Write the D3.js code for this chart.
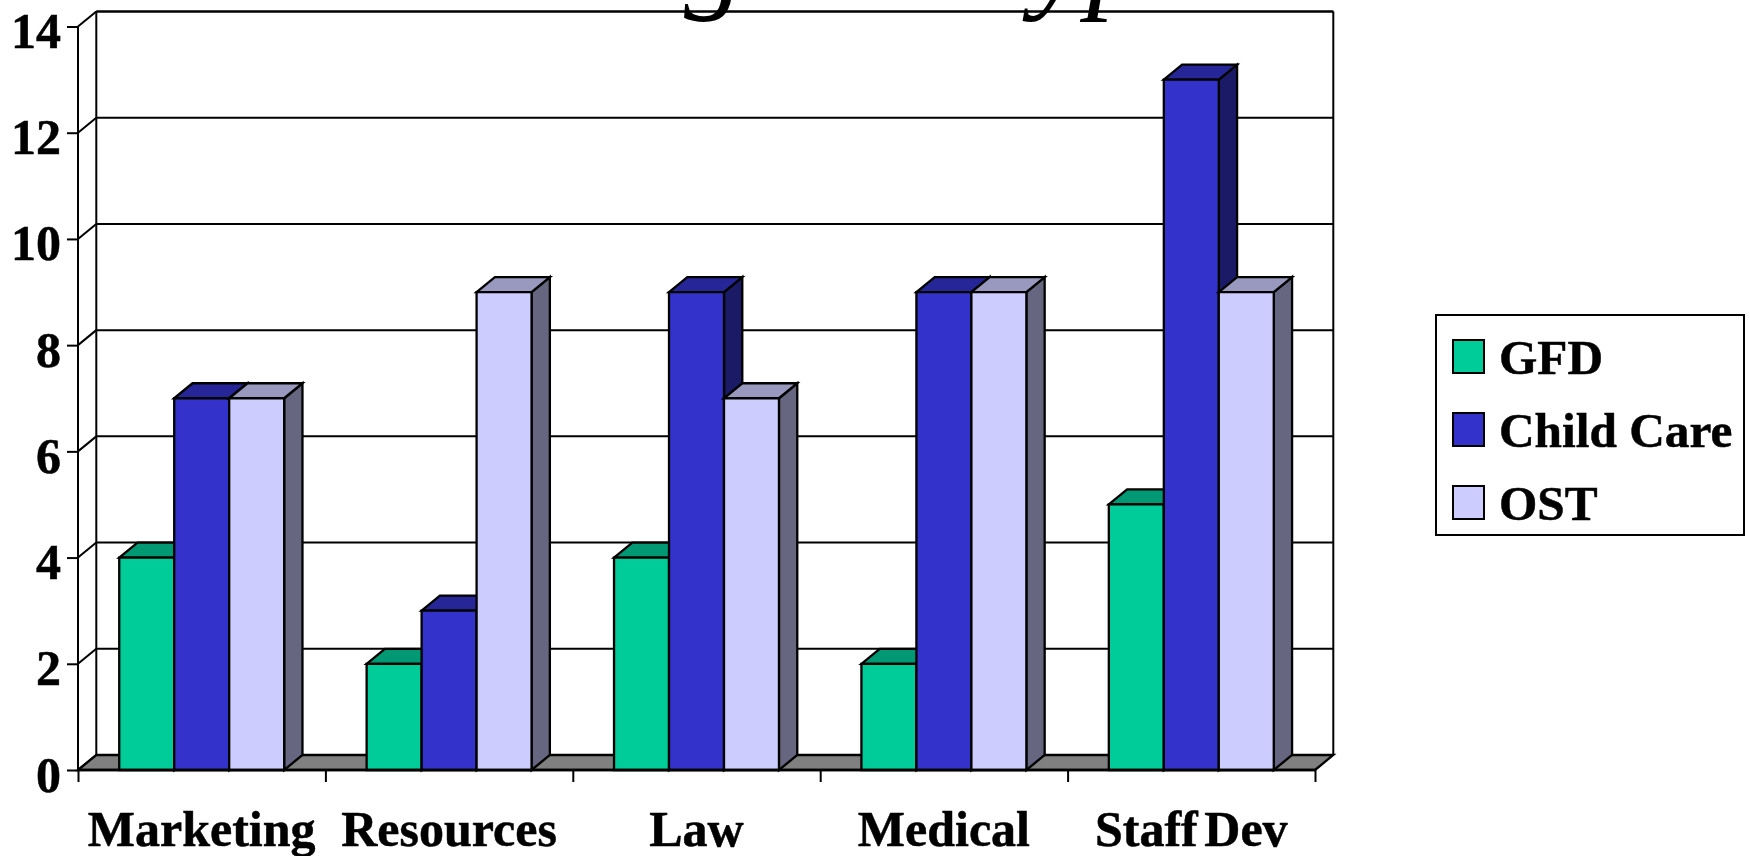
<!DOCTYPE html>
<html><head><meta charset="utf-8">
<script src="https://cdn.jsdelivr.net/npm/d3@7"></script>
<style>
html,body{margin:0;padding:0;background:#fff;overflow:hidden}
text{font-family:"Liberation Serif","Times New Roman",serif;fill:#000}
.b{font-weight:bold;font-size:50px;stroke:#000;stroke-width:0.5px}
</style></head><body>
<svg id="c" width="1750" height="856"></svg>
<script>
const categories = ["Marketing","Resources","Law","Medical","Staff Dev"];
const seriesNames = ["GFD","Child Care","OST"];
const gfd = [4,2,4,2,5];
const childCare = [7,3,9,9,13];
const ost = [7,9,7,9,9];
const yTicks = [0,2,4,6,8,10,12,14];
const frontColors = ["#00CC99","#3333CC","#CCCCFF"];
const topColors = ["#009973","#262699","#9999BF"];
const sideColors = ["#006650","#1A1A66","#666680"];
const seriesValues = [gfd,childCare,ost];

const svg = d3.select("#c");
const L=78,R=1315,T=26.5,B=770,DX=18.3,DY=15;
const x0=d3.scaleBand().domain(categories).range([L,R]).paddingInner(1/3).paddingOuter(1/6);
const x1=d3.scaleBand().domain(seriesNames).range([0,x0.bandwidth()]);
const y=d3.scaleLinear().domain([0,14]).range([B,T]);
const line=(g,a,b,c,d,w=2)=>g.append("line").attr("x1",a).attr("y1",b).attr("x2",c).attr("y2",d).attr("stroke","#000").attr("stroke-width",w);
const poly=(g,pts,fill)=>g.append("polygon").attr("points",pts.map(p=>p.join(",")).join(" ")).attr("fill",fill).attr("stroke","#000").attr("stroke-width",2.3).attr("stroke-linejoin","miter");

// walls
const wall=svg.append("g");
yTicks.forEach(v=>{
  if(v>0) line(wall,L+DX,y(v)-DY,R+DX,y(v)-DY);
  line(wall,L,y(v),L+DX,y(v)-DY);
});
line(wall,L,T,L,B);
line(wall,L+DX,T-DY,L+DX,B-DY);
line(wall,R+DX,T-DY,R+DX,B-DY);
poly(wall,[[L,B],[L+DX,B-DY],[R+DX,B-DY],[R,B]],"#808080");

// bars
categories.forEach((c,i)=>{
  const g=svg.append("g");
  seriesNames.forEach((s,j)=>{
    const a=x0(c)+x1(s),b=a+x1.bandwidth(),t=y(seriesValues[j][i]);
    poly(g,[[b,t],[b+DX,t-DY],[b+DX,B-DY],[b,B]],sideColors[j]);
    poly(g,[[a,t],[a+DX,t-DY],[b+DX,t-DY],[b,t]],topColors[j]);
    poly(g,[[a,t],[b,t],[b,B],[a,B]],frontColors[j]);
  });
});

// y axis
const ya=svg.append("g").attr("transform",`translate(${L},0)`)
  .call(d3.axisLeft(y).tickValues(yTicks).tickSize(11).tickPadding(6).tickFormat(d3.format("d")));
ya.select(".domain").remove();
ya.selectAll("line").attr("stroke","#000").attr("stroke-width",2);
ya.selectAll("text").attr("class","b").attr("dy","0.42em").attr("fill","#000");
ya.attr("font-family",null).attr("font-size",null);

// x axis: ticks on category boundaries, labels centred in bands
const boundaries=d3.range(categories.length+1);
const xb=d3.scaleLinear().domain([0,categories.length]).range([L,R]);
const xa=svg.append("g").attr("transform",`translate(0,${B})`)
  .call(d3.axisBottom(xb).tickValues(boundaries).tickSize(12).tickFormat(""));
xa.select(".domain").remove();
xa.selectAll("line").attr("stroke","#000").attr("stroke-width",2);
line(svg,L,B,R,B,2.3);
svg.append("g").selectAll("text").data(categories).join("text").attr("class","b")
  .attr("x",d=>x0(d)+x0.bandwidth()/2).attr("y",846).attr("text-anchor","middle").style("word-spacing","-6px").text(d=>d);

// top border of back wall
line(svg,L+DX,T-DY,R+DX,T-DY);

// title, almost entirely above the top edge: only descenders show
const titleStyle=s=>s.style("font-size","122px").style("font-style","italic");
svg.append("text").attr("x",745).attr("y",-4).attr("text-anchor","end").call(titleStyle).text("Training");
svg.append("text").attr("x",974).attr("y",-4).call(titleStyle).text("Type");

// legend
svg.append("rect").attr("x",1436).attr("y",315).attr("width",308).attr("height",220).attr("fill","#fff").attr("stroke","#000").attr("stroke-width",2);
const ly=d3.scalePoint().domain(seriesNames).range([357,503]);
const lg=svg.append("g").selectAll("g").data(seriesNames).join("g").attr("transform",d=>`translate(0,${ly(d)})`);
lg.append("rect").attr("x",1453).attr("y",-17).attr("width",31).attr("height",33)
  .attr("fill",(d,i)=>frontColors[i]).attr("stroke","#000").attr("stroke-width",2);
lg.append("text").attr("class","b").attr("x",1499).attr("y",17).style("font-size","49.3px").text(d=>d);
</script></body></html>
